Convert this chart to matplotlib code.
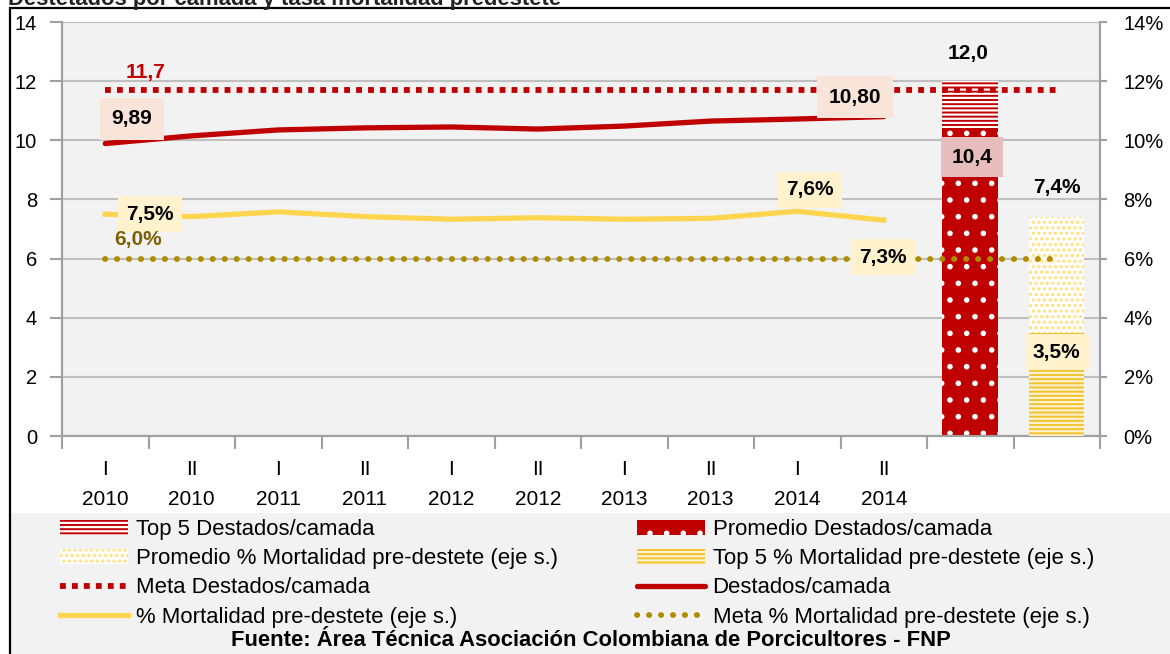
import matplotlib
matplotlib.use("Agg")
import matplotlib.pyplot as plt
from matplotlib.patches import Rectangle

# data
periods = ["I\n2010", "II\n2010", "I\n2011", "II\n2011", "I\n2012",
           "II\n2012", "I\n2013", "II\n2013", "I\n2014", "II\n2014"]
destetados = [9.89, 10.15, 10.35, 10.42, 10.45, 10.38, 10.48, 10.65, 10.72, 10.80]
mortalidad = [7.5, 7.42, 7.58, 7.42, 7.33, 7.38, 7.33, 7.36, 7.6, 7.3]
meta_destetados = 11.7
meta_mortalidad = 6.0
prom_destetados = 10.4
top5_destetados = 12.0
prom_mortalidad = 7.4
top5_mortalidad = 3.5

plt.rcParams["font.family"] = ["Liberation Sans", "DejaVu Sans"]
plt.rcParams["hatch.linewidth"] = 1.6

RED = "#c00000"
YEL = "#ffd54f"
OLIVE = "#b08c00"
GRID = "#bfbfbf"
SPINE = "#a0a0a0"

fig = plt.figure(figsize=(11.7, 6.54), dpi=100)
W, H = 1170, 654

def fx(px):
    return px / W

def fy(py):
    return 1 - py / H

# background and border
fig.patches.append(Rectangle((fx(10), 0), 1, fy(513), transform=fig.transFigure,
                             facecolor="#f2f2f2", edgecolor="none", zorder=-2))
fig.patches.append(Rectangle((fx(10), -0.1), 1, fy(8) + 0.1, transform=fig.transFigure,
                             facecolor="none", edgecolor="black", lw=1.6, zorder=-1))
fig.text(fx(8), fy(5), "Destetados por camada y tasa mortalidad predestete",
         fontsize=15.8, fontweight="bold", va="baseline", ha="left", color="#222222")

ax = fig.add_axes([fx(62), fy(436), fx(1100) - fx(62), fy(22) - fy(436)])
ax.set_facecolor("#f2f2f2")
ax2 = ax.twinx()

n = 12
x = list(range(len(periods)))
xb = [10]
xm = [11]

for a in (ax, ax2):
    a.set_xlim(-0.5, n - 0.5)
    a.set_ylim(0, 14)
    for s in a.spines.values():
        s.set_color(SPINE)
        s.set_linewidth(1.5)
    a.spines["top"].set_visible(False)

ax.set_yticks(range(0, 15, 2))
ax.set_yticklabels([str(v) for v in range(0, 15, 2)])
ax2.set_yticks(range(0, 15, 2))
ax2.set_yticklabels([f"{v}%" for v in range(0, 15, 2)])
ax.yaxis.grid(True, color=GRID, lw=1.5)
ax.set_axisbelow(True)
ax.tick_params(axis="y", length=9, color=SPINE, width=1.5, labelsize=14.5, pad=9)
ax2.tick_params(axis="y", length=5, color=SPINE, width=1.5, labelsize=14.5, pad=12)

ax.set_xticks(x)
ax.set_xticklabels(periods, linespacing=1.75)
ax.set_xticks([i - 0.5 for i in range(n + 1)], minor=True)
ax.tick_params(axis="x", which="major", length=0, labelsize=15, pad=17)
ax.tick_params(axis="x", which="minor", length=9, color=SPINE, width=1.5)

# bars
b_top5 = ax.bar(xb, [top5_destetados], width=0.65, color=RED, edgecolor="white",
                hatch="----", lw=0, zorder=2, label="Top 5 Destados/camada")
b_prom = ax.bar(xb, [prom_destetados], width=0.65, color=RED, edgecolor="white",
                hatch=".", lw=0, zorder=3, label="Promedio Destados/camada")
m_prom = ax2.bar(xm, [prom_mortalidad], width=0.64, color="white", edgecolor="#ffe080",
                 hatch="...", lw=0, zorder=2, label="Promedio % Mortalidad pre-destete (eje s.)")
m_top5 = ax2.bar(xm, [top5_mortalidad], width=0.64, color="#f2c12e", edgecolor="#fff2cc",
                 hatch="----", lw=0, zorder=3, label="Top 5 % Mortalidad pre-destete (eje s.)")

# lines
l_meta, = ax.plot(range(n), [meta_destetados] * n, color=RED, lw=4.2,
                  ls=(0, (1.0, 1.05)), dash_capstyle="butt", zorder=4,
                  label="Meta Destados/camada")
l_dest, = ax.plot(x, destetados, color=RED, lw=3.8, solid_capstyle="round", zorder=4,
                  label="Destados/camada")
l_mort, = ax2.plot(x, mortalidad, color=YEL, lw=3.8, zorder=4,
                   label="% Mortalidad pre-destete (eje s.)")
l_mmeta, = ax2.plot(range(n), [meta_mortalidad] * n, color=OLIVE, lw=4.2,
                    ls=(0, (0.05, 2.0)), dash_capstyle="round", zorder=4,
                    label="Meta % Mortalidad pre-destete (eje s.)")

# labels
lab = dict(fontsize=15, fontweight="bold", ha="center", va="center", zorder=6)
peach = dict(boxstyle="square,pad=0.55", fc="#f8e4d8", ec="none")
cream = dict(boxstyle="square,pad=0.4", fc="#fff2cc", ec="none")
ax.text(0.46, 12.28, "11,7", color=RED, **lab)
ax.text(0.31, 10.72, "9,89", bbox=peach, **lab)
ax.text(8.67, 11.46, "10,80", bbox=peach, **lab)
ax.text(9.97, 12.95, "12,0", **lab)
ax.text(10.02, 9.43, "10,4", bbox=dict(boxstyle="square,pad=0.5", fc="#e6bcbc", ec="none"), **lab)
ax2.text(0.52, 7.5, "7,5%", bbox=cream, **lab)
ax2.text(0.38, 6.63, "6,0%", color="#7f6000", **lab)
ax2.text(8.15, 8.32, "7,6%", bbox=cream, **lab)
ax2.text(8.99, 6.05, "7,3%", bbox=cream, **lab)
ax2.text(11.0, 8.39, "7,4%", **lab)
ax2.text(11.0, 2.84, "3,5%", bbox=cream, **lab)

# legend, two columns
leg_kw = dict(loc="upper left", frameon=False, fontsize=15.9, handlelength=3.1,
              handleheight=0.7, handletextpad=0.32, labelspacing=0.37, borderpad=0,
              borderaxespad=0)
fig.legend([b_top5, m_prom, l_meta, l_mort],
           [h.get_label() for h in (b_top5, m_prom, l_meta, l_mort)],
           bbox_to_anchor=(fx(60), fy(519)), **leg_kw)
fig.legend([b_prom, m_top5, l_dest, l_mmeta],
           [h.get_label() for h in (b_prom, m_top5, l_dest, l_mmeta)],
           bbox_to_anchor=(fx(637), fy(519)), **leg_kw)

fig.text(fx(591), fy(641), "Fuente: Área Técnica Asociación Colombiana de Porcicultores - FNP",
         fontsize=15.8, fontweight="bold", ha="center", va="center")

fig.savefig("out.png", dpi=100)
